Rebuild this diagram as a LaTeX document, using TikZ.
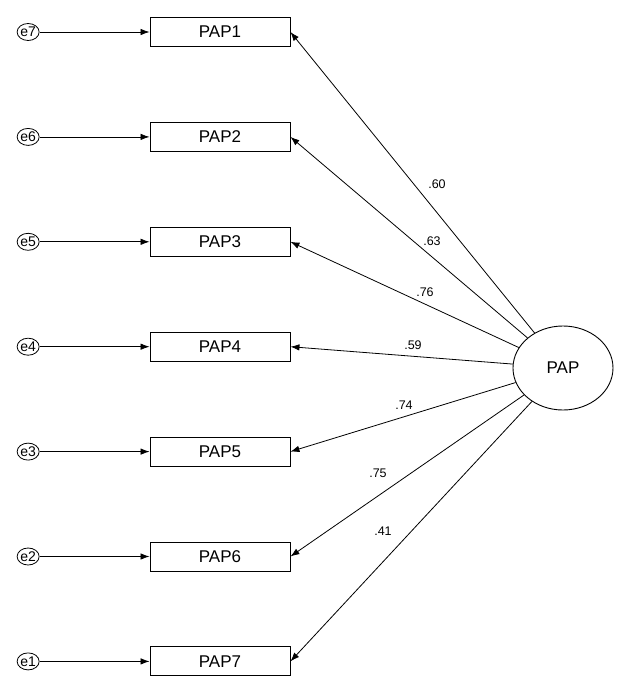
\documentclass[tikz,border=0pt]{standalone}
\usepackage{fontspec}
\setmainfont{Liberation Sans}
\usetikzlibrary{shapes.geometric,arrows.meta,positioning}

\begin{document}
\begin{tikzpicture}[
  x=1pt, y=1pt,
  node distance=75pt and 110pt,
  item/.style={rectangle, draw, line width=0.9pt, minimum width=140pt,
               minimum height=29pt, inner sep=0pt, font=\fontsize{17}{17}\selectfont},
  err/.style={ellipse, draw, line width=0.8pt, minimum width=20pt,
              minimum height=17pt, inner sep=0pt, font=\fontsize{14}{14}\selectfont},
  latent/.style={ellipse, draw, line width=0.9pt, minimum width=100pt,
                 minimum height=84pt, font=\fontsize{17}{17}\selectfont},
  lbl/.style={font=\fontsize{12.5}{12.5}\selectfont},
  arr/.style={-{Latex[length=9pt,width=6.5pt]}, line width=0.8pt}]
  \useasboundingbox (0,0) rectangle (641,-681);
  \node[item] at (220,-32) (p1) {PAP1};
  \node[item, below=of p1] (p2) {PAP2};
  \node[item, below=of p2] (p3) {PAP3};
  \node[item, below=of p3] (p4) {PAP4};
  \node[item, below=of p4] (p5) {PAP5};
  \node[item, below=of p5] (p6) {PAP6};
  \node[item, below=of p6] (p7) {PAP7};
  \node[err, left=of p1] (e7) {e7};
  \node[err, left=of p2] (e6) {e6};
  \node[err, left=of p3] (e5) {e5};
  \node[err, left=of p4] (e4) {e4};
  \node[err, left=of p5] (e3) {e3};
  \node[err, left=of p6] (e2) {e2};
  \node[err, left=of p7] (e1) {e1};
  \node[latent] at (563,-368) (pap) {PAP};
  \draw[arr] (e7) -- (p1);
  \draw[arr] (e6) -- (p2);
  \draw[arr] (e5) -- (p3);
  \draw[arr] (e4) -- (p4);
  \draw[arr] (e3) -- (p5);
  \draw[arr] (e2) -- (p6);
  \draw[arr] (e1) -- (p7);
  \draw[arr] (pap) -- (p1.east);
  \draw[arr] (pap) -- (p2.east);
  \draw[arr] (pap) -- (p3.east);
  \draw[arr] (pap) -- (p4.east);
  \draw[arr] (pap) -- (p5.east);
  \draw[arr] (pap) -- (p6.east);
  \draw[arr] (pap) -- (p7.east);
  \node[lbl] at (437,-184) {.60};
  \node[lbl] at (432,-241) {.63};
  \node[lbl] at (425,-292) {.76};
  \node[lbl] at (413,-345) {.59};
  \node[lbl] at (404,-405) {.74};
  \node[lbl] at (378,-473) {.75};
  \node[lbl] at (383,-531) {.41};
\end{tikzpicture}
\end{document}
